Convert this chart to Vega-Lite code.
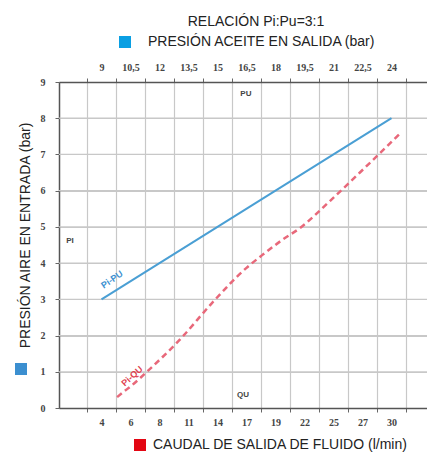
{
  "$schema": "https://vega.github.io/schema/vega-lite/v6.json",
  "width": 368,
  "height": 326,
  "autosize": {"type": "none"},
  "padding": {"left": 59, "top": 82, "right": 0, "bottom": 45},
  "background": "white",
  "title": {"text": "RELACIÓN Pi:Pu=3:1", "font": "Liberation Sans", "fontSize": 14, "fontWeight": "normal", "color": "#222", "anchor": "middle", "dx": 13, "offset": 6},
  "config": {
    "view": {"stroke": null},
    "axis": {
      "labelFont": "Liberation Serif", "labelFontWeight": "bold", "labelFontSize": 10, "labelColor": "#444",
      "grid": true, "gridColor": "#c8c8c8", "gridWidth": 1.2, "gridOpacity": 1,
      "ticks": true, "tickSize": 4, "tickColor": "#666", "tickWidth": 1,
      "domain": true, "domainColor": "#555", "domainWidth": 1.5,
      "labelFlush": false, "labelOverlap": false
    },
    "axisBottom": {"grid": false},
    "legend": {"title": null, "symbolType": "square", "symbolSize": 144, "symbolStrokeWidth": 0, "labelFont": "Liberation Sans", "labelFontSize": 14, "labelColor": "#222", "labelLimit": 400, "padding": 0}
  },
  "datasets": {
    "niveles": [
      {"pi": 1, "pu": 6.802}, {"pi": 1, "pu": 25.836},
      {"pi": 2, "pu": 6.802}, {"pi": 2, "pu": 25.836},
      {"pi": 3, "pu": 6.802}, {"pi": 3, "pu": 25.836},
      {"pi": 4, "pu": 6.802}, {"pi": 4, "pu": 25.836},
      {"pi": 5, "pu": 6.802}, {"pi": 5, "pu": 25.836},
      {"pi": 6, "pu": 6.802}, {"pi": 6, "pu": 25.836},
      {"pi": 7, "pu": 6.802}, {"pi": 7, "pu": 25.836},
      {"pi": 8, "pu": 6.802}, {"pi": 8, "pu": 25.836}
    ],
    "aceite": [
      {"serie": "PRESIÓN ACEITE EN SALIDA (bar)", "pu": 9, "pi": 3},
      {"serie": "PRESIÓN ACEITE EN SALIDA (bar)", "pu": 12, "pi": 4},
      {"serie": "PRESIÓN ACEITE EN SALIDA (bar)", "pu": 15, "pi": 5},
      {"serie": "PRESIÓN ACEITE EN SALIDA (bar)", "pu": 18, "pi": 6},
      {"serie": "PRESIÓN ACEITE EN SALIDA (bar)", "pu": 21, "pi": 7},
      {"serie": "PRESIÓN ACEITE EN SALIDA (bar)", "pu": 24, "pi": 8}
    ],
    "caudal": [
      {"serie": "CAUDAL DE SALIDA DE FLUIDO (l/min)", "qu": 5.4, "pi": 0.30},
      {"serie": "CAUDAL DE SALIDA DE FLUIDO (l/min)", "qu": 6.0, "pi": 0.45},
      {"serie": "CAUDAL DE SALIDA DE FLUIDO (l/min)", "qu": 6.7, "pi": 0.62},
      {"serie": "CAUDAL DE SALIDA DE FLUIDO (l/min)", "qu": 8.35, "pi": 1.08},
      {"serie": "CAUDAL DE SALIDA DE FLUIDO (l/min)", "qu": 11.0, "pi": 1.88},
      {"serie": "CAUDAL DE SALIDA DE FLUIDO (l/min)", "qu": 14.0, "pi": 2.93},
      {"serie": "CAUDAL DE SALIDA DE FLUIDO (l/min)", "qu": 17.0, "pi": 3.87},
      {"serie": "CAUDAL DE SALIDA DE FLUIDO (l/min)", "qu": 18.4, "pi": 4.22},
      {"serie": "CAUDAL DE SALIDA DE FLUIDO (l/min)", "qu": 20.2, "pi": 4.64},
      {"serie": "CAUDAL DE SALIDA DE FLUIDO (l/min)", "qu": 21.8, "pi": 4.97},
      {"serie": "CAUDAL DE SALIDA DE FLUIDO (l/min)", "qu": 24.5, "pi": 5.72},
      {"serie": "CAUDAL DE SALIDA DE FLUIDO (l/min)", "qu": 27.6, "pi": 6.63},
      {"serie": "CAUDAL DE SALIDA DE FLUIDO (l/min)", "qu": 30.9, "pi": 7.62}
    ],
    "etiquetaPU": [{"etiqueta": "Pi-PU", "pu": 9.54, "pi": 3.55}],
    "etiquetaQU": [{"etiqueta": "Pi-QU", "qu": 6.73, "pi": 0.88}],
    "ejes": [
      {"etiqueta": "PU", "pu": 16.47, "pi": 8.67},
      {"etiqueta": "QU", "pu": 16.32, "pi": 0.36},
      {"etiqueta": "PI", "pu": 7.37, "pi": 4.6}
    ]
  },
  "layer": [
    {
      "data": {"name": "niveles"},
      "mark": {"type": "line", "color": "#c8c8c8", "strokeWidth": 1.2},
      "encoding": {
        "x": {"field": "pu", "type": "quantitative", "scale": {"domain": [6.802, 25.836], "nice": false, "zero": false}, "axis": null},
        "y": {"field": "pi", "type": "quantitative", "scale": {"domain": [0, 9], "nice": false}, "axis": null},
        "detail": {"field": "pi", "type": "nominal"}
      }
    },
    {
      "data": {"name": "aceite"},
      "mark": {"type": "line", "strokeWidth": 2},
      "encoding": {
        "x": {"field": "pu", "type": "quantitative",
          "scale": {"domain": [6.802, 25.836], "nice": false, "zero": false},
          "axis": {"orient": "top", "title": null, "grid": true,
            "values": [8.25, 9.75, 11.25, 12.75, 14.25, 15.75, 17.25, 18.75, 20.25, 21.75, 23.25, 24.75],
            "labelExpr": "datum.value > 24 ? '' : replace(format(datum.value + 0.75, '.1~f'), '.', ',')",
            "labelOffset": 14.5, "labelPadding": 6}},
        "y": {"field": "pi", "type": "quantitative",
          "scale": {"domain": [0, 9], "nice": false},
          "axis": {"orient": "left", "title": "PRESIÓN AIRE EN ENTRADA (bar)", "values": [0,1,2,3,4,5,6,7,8,9], "grid": true,
            "titleFont": "Liberation Sans", "titleFontSize": 14, "titleFontWeight": "normal", "titleColor": "#222",
            "titleX": -34, "titleY": 153, "titleAngle": 270, "titleAlign": "center", "titleBaseline": "middle",
            "labelPadding": 10}},
        "color": {"field": "serie", "type": "nominal", "scale": {"range": ["#4a9fd4"]},
          "legend": {"orient": "none", "legendX": 59, "legendY": -47, "symbolFillColor": "#0a9fe3", "labelOffset": 16}}
      }
    },
    {
      "data": {"name": "caudal"},
      "mark": {"type": "line", "strokeWidth": 2.5, "strokeDash": [6, 4], "interpolate": "monotone"},
      "encoding": {
        "x": {"field": "qu", "type": "quantitative",
          "scale": {"domain": [0.19, 33.18], "nice": false, "zero": false},
          "axis": {"orient": "bottom", "title": null, "grid": false,
            "values": [2.7, 5.3, 7.9, 10.5, 13.1, 15.7, 18.3, 20.9, 23.5, 26.1, 28.7, 31.3],
            "labelExpr": "['4','6','8','11','14','17','19','22','25','27','30',''][round((datum.value - 2.7) / 2.6)]",
            "labelOffset": 14.5, "labelPadding": 5}},
        "y": {"field": "pi", "type": "quantitative", "scale": {"domain": [0, 9], "nice": false}, "axis": null},
        "color": {"field": "serie", "type": "nominal", "scale": {"range": ["#e8687a"]},
          "legend": {"orient": "none", "legendX": 74, "legendY": 356, "symbolFillColor": "#e30613", "labelOffset": 6}}
      }
    },
    {
      "data": {"name": "etiquetaPU"},
      "mark": {"type": "text", "angle": 325, "font": "Liberation Sans", "fontWeight": "bold", "fontSize": 9},
      "encoding": {
        "x": {"field": "pu", "type": "quantitative", "scale": {"domain": [6.802, 25.836], "nice": false, "zero": false}, "axis": null},
        "y": {"field": "pi", "type": "quantitative", "scale": {"domain": [0, 9], "nice": false}, "axis": null},
        "text": {"field": "etiqueta"},
        "color": {"field": "etiqueta", "type": "nominal", "scale": {"range": ["#3b8fd0"]},
          "legend": {"orient": "none", "legendX": -45, "legendY": 280, "symbolFillColor": "#0a9fe3", "labelExpr": "''"}}
      }
    },
    {
      "data": {"name": "etiquetaQU"},
      "mark": {"type": "text", "angle": 318, "font": "Liberation Sans", "fontWeight": "bold", "fontSize": 9, "color": "#e0404f"},
      "encoding": {
        "x": {"field": "qu", "type": "quantitative", "scale": {"domain": [0.19, 33.18], "nice": false, "zero": false}, "axis": null},
        "y": {"field": "pi", "type": "quantitative", "scale": {"domain": [0, 9], "nice": false}, "axis": null},
        "text": {"field": "etiqueta"}
      }
    },
    {
      "data": {"name": "ejes"},
      "mark": {"type": "text", "font": "Liberation Sans", "fontWeight": "bold", "fontSize": 8, "color": "#444"},
      "encoding": {
        "x": {"field": "pu", "type": "quantitative", "scale": {"domain": [6.802, 25.836], "nice": false, "zero": false}, "axis": null},
        "y": {"field": "pi", "type": "quantitative", "scale": {"domain": [0, 9], "nice": false}, "axis": null},
        "text": {"field": "etiqueta"}
      }
    }
  ],
  "resolve": {
    "scale": {"x": "independent", "y": "independent", "color": "independent"},
    "axis": {"x": "independent", "y": "independent"},
    "legend": {"color": "independent"}
  }
}
